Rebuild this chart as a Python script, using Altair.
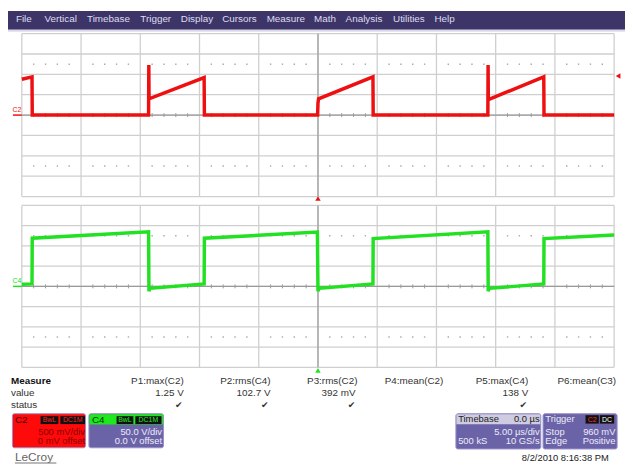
import altair as alt
import pandas as pd

# ---------------- values ----------------
menu_items = ["File", "Vertical", "Timebase", "Trigger", "Display", "Cursors",
              "Measure", "Math", "Analysis", "Utilities", "Help"]

# C2 (red, 500 mV/div): time in microseconds, value in volts (breakpoints)
c2_time = [-25.0, -24.14, -24.12, -14.30, -14.28, -14.26, -9.61, -9.59,
           -0.03, 0.0, 0.05, 4.64, 4.66, 14.34, 14.36, 14.38, 19.06, 19.08, 25.0]
c2_volt = [0.88, 0.94, 0.0, 0.0, 1.23, 0.40, 0.92, 0.0,
           0.0, 0.30, 0.40, 0.94, 0.0, 0.0, 1.23, 0.38, 0.94, 0.0, 0.0]

# C4 (green, 50 V/div): time in microseconds, value in volts (breakpoints)
c4_time = [-25.0, -24.14, -24.12, -14.30, -14.27, -14.20, -9.61, -9.59,
           -0.05, 0.0, 0.08, 4.64, 4.66, 14.34, 14.37, 14.45, 19.06, 19.08, 25.0]
c4_volt = [5, 6, 119, 135, -12, -5, 6, 119,
           134, -12, -5, 6, 118, 135, -12, -5, 6, 118, 127]

time_divs = [-25, -20, -15, -10, -5, 0, 5, 10, 15, 20, 25]
minor_times = [-24, -23, -22, -21, -19, -18, -17, -16, -14, -13, -12, -11,
               -9, -8, -7, -6, -4, -3, -2, -1, 1, 2, 3, 4, 6, 7, 8, 9,
               11, 12, 13, 14, 16, 17, 18, 19, 21, 22, 23, 24]
c2_divs = [-2.0, -1.5, -1.0, -0.5, 0.0, 0.5, 1.0, 1.5, 2.0]
c4_divs = [-200, -150, -100, -50, 0, 50, 100, 150, 200]
c2_dot_rows = [-1.25, 1.25]
c4_dot_rows = [-125, 125]
trigger_time = [0.0]
trigger_level = [0.96]

meas_rows = ["Measure", "value", "status"]
meas_names = ["P1:max(C2)", "P2:rms(C4)", "P3:rms(C2)", "P4:mean(C2)", "P5:max(C4)", "P6:mean(C3)"]
meas_values = ["1.25 V", "102.7 V", "392 mV", "", "138 V", ""]
meas_status = ["✔", "✔", "✔", "", "✔", ""]

c2_box = ["C2", "BwL", "DC1M", "500 mV/div", "0 mV offset"]
c4_box = ["C4", "BwL", "DC1M", "50.0 V/div", "0.0 V offset"]
timebase_box = ["Timebase", "0.0 µs", "5.00 µs/div", "500 kS", "10 GS/s"]
trigger_box = ["Trigger", "C2", "DC", "Stop", "960 mV", "Edge", "Positive"]
date_text = "8/2/2010 8:16:38 PM"
brand = "LeCroy"

# ---------------- layout / style ----------------
FONT = "Liberation Sans"
RED = "#ee1010"
GREEN = "#22e022"
PURPLE = "#6b63a8"
BAR = "#3d3568"
GRID = "#cfcfcf"
CENTER = "#9a9a9a"

XS = alt.Scale(domain=[-25, 25], range=[14, 614], nice=False)
Y2S = alt.Scale(domain=[-2, 2], range=[188, 23], nice=False)
Y4S = alt.Scale(domain=[-200, 200], range=[361, 197], nice=False)
dummy = pd.DataFrame({"d": [0]})


def X(field):
    return alt.X(field, scale=XS, axis=None)


def Y(field, sc):
    return alt.Y(field, scale=sc, axis=None)


def txt(s, x, y, size=10, color="#222", align="left", weight="normal", font=FONT):
    return alt.Chart(dummy).mark_text(
        text=s, align=align, baseline="middle", fontSize=size, color=color,
        fontWeight=weight, font=font
    ).encode(x=alt.value(x), y=alt.value(y))


def box(x, x2, y, y2, fill, stroke="transparent", r=0):
    return alt.Chart(dummy).mark_rect(
        fill=fill, stroke=stroke, strokeWidth=1, cornerRadius=r
    ).encode(x=alt.value(x), x2=alt.value(x2), y=alt.value(y), y2=alt.value(y2))


layers = []

# menu bar
layers.append(box(0, 625, 0, 19, BAR))
layers.append(box(0, 625, 19, 21, "#dcdaea"))
menu_x = [8, 37, 80, 134, 175, 217, 262, 310, 342, 390, 432]
menu_df = pd.DataFrame({"label": menu_items, "px": menu_x})
layers.append(alt.Chart(menu_df).mark_text(
    align="left", baseline="middle", fontSize=10, color="#dedcf0", font=FONT
).encode(x=alt.X("px:Q", scale=None, axis=None), y=alt.value(8), text="label:N"))


def panel(ysc, divs, dot_rows, y_top, y_bot, y_mid):
    out = []
    tdf = pd.DataFrame({"t": time_divs})
    out.append(alt.Chart(tdf).mark_rule(color=GRID, strokeWidth=1.3).encode(
        x=X("t:Q"), y=alt.value(y_top), y2=alt.value(y_bot)))
    vdf = pd.DataFrame({"v": divs})
    out.append(alt.Chart(vdf).mark_rule(color=GRID, strokeWidth=1.3).encode(
        y=Y("v:Q", ysc), x=alt.value(14), x2=alt.value(614)))
    out.append(alt.Chart(pd.DataFrame({"t": trigger_time})).mark_rule(color=CENTER, strokeWidth=1.2).encode(
        x=X("t:Q"), y=alt.value(y_top), y2=alt.value(y_bot)))
    out.append(alt.Chart(pd.DataFrame({"v": [0]})).mark_rule(color=CENTER, strokeWidth=1.2).encode(
        y=Y("v:Q", ysc), x=alt.value(14), x2=alt.value(614)))
    out.append(alt.Chart(pd.DataFrame({"t": minor_times})).mark_rule(color=CENTER, strokeWidth=1).encode(
        x=X("t:Q"), y=alt.value(y_mid - 2), y2=alt.value(y_mid + 2)))
    ddf = pd.DataFrame([{"t": t, "v": v} for v in dot_rows for t in minor_times])
    out.append(alt.Chart(ddf).mark_square(size=2, color="#a8a8a8", opacity=1).encode(
        x=X("t:Q"), y=Y("v:Q", ysc)))
    return out


layers += panel(Y2S, c2_divs, c2_dot_rows, 23, 188, 105.5)
layers += panel(Y4S, c4_divs, c4_dot_rows, 197, 361, 279)

# traces
c2_df = pd.DataFrame({"t": c2_time, "v": c2_volt})
layers.append(alt.Chart(c2_df).mark_line(color=RED, strokeWidth=3.5, strokeJoin="miter").encode(
    x=X("t:Q"), y=Y("v:Q", Y2S), order="t:Q"))
c4_df = pd.DataFrame({"t": c4_time, "v": c4_volt})
layers.append(alt.Chart(c4_df).mark_line(color=GREEN, strokeWidth=3.5, strokeJoin="miter").encode(
    x=X("t:Q"), y=Y("v:Q", Y4S), order="t:Q"))

# channel ground markers
layers.append(txt("C2", 9, 100, size=7, color=RED, align="center"))
layers.append(alt.Chart(pd.DataFrame({"v": [0]})).mark_rule(color=RED, strokeWidth=1.5).encode(
    y=Y("v:Q", Y2S), x=alt.value(5), x2=alt.value(14)))
layers.append(txt("C4", 9, 274, size=7, color=GREEN, align="center"))
layers.append(alt.Chart(pd.DataFrame({"v": [0]})).mark_rule(color=GREEN, strokeWidth=1.5).encode(
    y=Y("v:Q", Y4S), x=alt.value(5), x2=alt.value(14)))

# trigger markers
layers.append(alt.Chart(pd.DataFrame({"t": trigger_time})).mark_point(
    shape="triangle-up", filled=True, size=30, color=RED, opacity=1).encode(
    x=X("t:Q"), y=alt.value(190)))
layers.append(alt.Chart(pd.DataFrame({"t": trigger_time})).mark_point(
    shape="triangle-up", filled=True, size=30, color=GREEN, opacity=1).encode(
    x=X("t:Q"), y=alt.value(364)))
layers.append(alt.Chart(pd.DataFrame({"v": trigger_level})).mark_point(
    shape="triangle-left", filled=True, size=30, color=RED, opacity=1).encode(
    y=Y("v:Q", Y2S), x=alt.value(618)))

# measure table
row_y = [375, 387, 399]
for i, r in enumerate(meas_rows):
    layers.append(txt(r, 3, row_y[i], weight="bold" if i == 0 else "normal",
                      color="#111" if i == 0 else "#333"))
name_x = [178, 266, 354, 441, 527, 616]
value_x = [178, 266, 352, 441, 527, 616]
check_x = [173, 260, 348, 441, 522, 616]
for i in range(len(meas_names)):
    layers.append(txt(meas_names[i], name_x[i], row_y[0], align="right", color="#333"))
    if meas_values[i]:
        layers.append(txt(meas_values[i], value_x[i], row_y[1], align="right", color="#333"))
    if meas_status[i]:
        layers.append(txt(meas_status[i], check_x[i], row_y[2], size=9, align="center",
                          color="#333", font="DejaVu Sans"))

# C2 box
layers.append(box(4.5, 78.5, 408, 442.5, "#ff0a0a", stroke="#9890c8", r=2))
layers.append(txt(c2_box[0], 7, 414.5, size=10, color="#400000"))
layers.append(box(33, 51, 410.5, 418.5, "#111"))
layers.append(box(53, 78, 410.5, 418.5, "#111"))
layers.append(txt(c2_box[1], 42, 414.5, size=7, color="#ff2020", align="center"))
layers.append(txt(c2_box[2], 65.5, 414.5, size=7, color="#ff2020", align="center"))
layers.append(txt(c2_box[3], 78, 427, size=9.5, color="#8a0000", align="right"))
layers.append(txt(c2_box[4], 78, 436, size=9.5, color="#8a0000", align="right"))

# C4 box
layers.append(box(82, 157.5, 408, 442.5, PURPLE, stroke="#9890c8", r=2))
layers.append(box(82.5, 157, 408.5, 419, "#1ee81e"))
layers.append(txt(c4_box[0], 85, 414, size=10, color="#063806"))
layers.append(box(110, 127, 410.5, 418.5, "#111"))
layers.append(box(129, 155.5, 410.5, 418.5, "#111"))
layers.append(txt(c4_box[1], 118.5, 414.5, size=7, color="#22ee22", align="center"))
layers.append(txt(c4_box[2], 142.2, 414.5, size=7, color="#22ee22", align="center"))
layers.append(txt(c4_box[3], 156, 427, size=9.5, color="#ecebf8", align="right"))
layers.append(txt(c4_box[4], 156, 436, size=9.5, color="#ecebf8", align="right"))

# Timebase box
layers.append(box(453.7, 539.7, 408, 443.7, PURPLE, stroke="#9890c8", r=2))
layers.append(box(454.2, 539.2, 408.5, 418.7, "#cfcce2"))
layers.append(txt(timebase_box[0], 456, 413.7, size=9.5, color="#222"))
layers.append(txt(timebase_box[1], 538.5, 413.7, size=9.5, color="#222", align="right"))
layers.append(txt(timebase_box[2], 538.5, 426.3, size=9.5, color="#ecebf8", align="right"))
layers.append(txt(timebase_box[3], 456, 435.3, size=9.5, color="#ecebf8"))
layers.append(txt(timebase_box[4], 538.5, 435.3, size=9.5, color="#ecebf8", align="right"))

# Trigger box
layers.append(box(542, 617, 408, 443.7, PURPLE, stroke="#9890c8", r=2))
layers.append(txt(trigger_box[0], 544.3, 413.7, size=9.5, color="#ecebf8"))
layers.append(box(585, 598.5, 409.5, 418, "#111"))
layers.append(box(599.5, 614, 409.5, 418, "#111"))
layers.append(txt(trigger_box[1], 591.7, 414, size=7, color="#ff3030", align="center"))
layers.append(txt(trigger_box[2], 606.7, 414, size=7, color="#ffffff", align="center"))
layers.append(txt(trigger_box[3], 544.3, 426.3, size=9.5, color="#ecebf8"))
layers.append(txt(trigger_box[4], 615.3, 426.3, size=9.5, color="#ecebf8", align="right"))
layers.append(txt(trigger_box[5], 544.3, 435.3, size=9.5, color="#ecebf8"))
layers.append(txt(trigger_box[6], 615.3, 435.3, size=9.5, color="#ecebf8", align="right"))

# footer
layers.append(txt(date_text, 564.5, 453, size=9.5, color="#222", align="center"))
layers.append(txt(brand, 7, 452, size=12, color="#666"))
layers.append(box(7, 49, 457.5, 458.5, "#777"))

chart = alt.layer(*layers).resolve_scale(
    x="independent", y="independent"
).properties(
    width=625, height=460, padding=0, autosize="none", background="white"
).configure_view(stroke="transparent")

chart.save("out.html", embed_options={"renderer": "svg", "actions": False})
